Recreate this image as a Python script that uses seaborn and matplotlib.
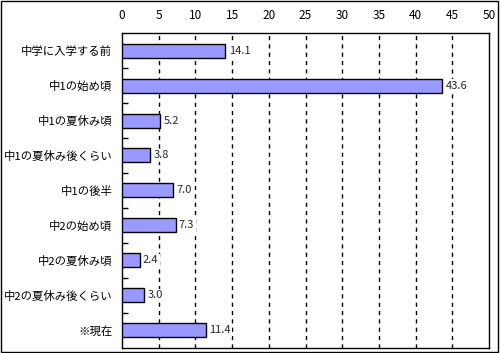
import matplotlib
matplotlib.use("Agg")
import matplotlib.pyplot as plt
import seaborn as sns
import pandas as pd
import numpy as np
from matplotlib.patches import Rectangle

categories = ["中学に入学する前", "中1の始め頃", "中1の夏休み頃", "中1の夏休み後くらい",
              "中1の後半", "中2の始め頃", "中2の夏休み頃", "中2の夏休み後くらい", "※現在"]
values = [14.1, 43.6, 5.2, 3.8, 7.0, 7.3, 2.4, 3.0, 11.4]
xticks = [0, 5, 10, 15, 20, 25, 30, 35, 40, 45, 50]

sns.set_theme(style="white")
plt.rcParams['font.family'] = ['Noto Sans CJK JP', 'DejaVu Sans']

df = pd.DataFrame({"cat": categories, "val": values})

fig = plt.figure(figsize=(5.0, 3.53), dpi=100)
ax = fig.add_axes([0.244, 0.0142, 0.734, 0.8923])

sns.barplot(data=df, x="val", y="cat", orient="h", color="#9999FF",
            edgecolor="black", linewidth=1.0, width=0.4, saturation=1, ax=ax)
for p in ax.patches:
    p.set_zorder(3)

ax.set_xlim(0, 50)
ax.set_ylim(len(categories) - 0.5, -0.5)
ax.set_xticks(xticks)
ax.set_xticklabels([str(t) for t in xticks], fontsize=8.5)
ax.xaxis.tick_top()
ax.tick_params(axis='x', length=0, pad=8, colors='black')
ax.tick_params(axis='y', which='major', length=0, pad=7, labelsize=8.2, colors='black')
ax.set_yticks(np.arange(len(categories) - 1) + 0.5, minor=True)
ax.tick_params(axis='y', which='minor', direction='in', length=4, width=1, color='black', left=True)
ax.set_xlabel("")
ax.set_ylabel("")

for x in xticks[1:-1]:
    ax.axvline(x, color="black", linestyle=(0, (3, 3)), linewidth=1.0, zorder=1)

for s in ax.spines.values():
    s.set_color("black")
    s.set_linewidth(1.0)

for i, v in enumerate(values):
    ax.text(v + 0.45, i, f"{v:.1f}", va="center", ha="left", fontsize=8, zorder=4,
            bbox=dict(facecolor="white", edgecolor="none", pad=1.0))

fig.patches.append(Rectangle((0.002, 0.003), 0.994, 0.994, transform=fig.transFigure,
                             fill=False, edgecolor="black", linewidth=1.0))

fig.savefig("out.png", dpi=100)
